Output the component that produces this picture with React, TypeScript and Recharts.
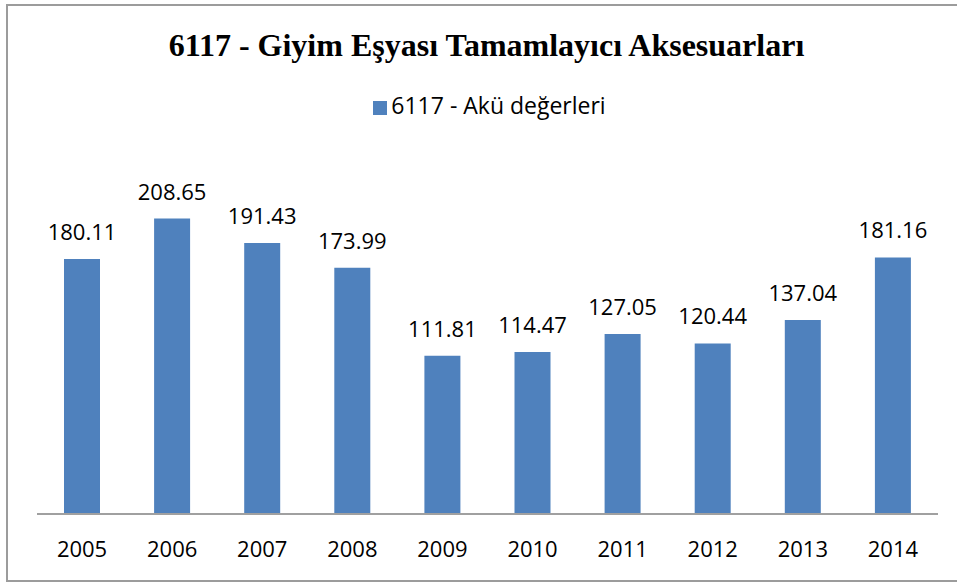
import React from 'react';
import { BarChart, Bar, XAxis, YAxis, LabelList, Legend } from 'recharts';

const years = ['2005', '2006', '2007', '2008', '2009', '2010', '2011', '2012', '2013', '2014'];
const values = [180.11, 208.65, 191.43, 173.99, 111.81, 114.47, 127.05, 120.44, 137.04, 181.16];
const seriesName = '6117 - Akü değerleri';
const title = '6117 - Giyim Eşyası Tamamlayıcı Aksesuarları';

const data = years.map((y, i) => ({ year: y, value: values[i] }));

const SANS = '"Open Sans", "Noto Sans", sans-serif';

export default function App() {
  return (
    <div style={{ position: 'absolute', left: 0, top: 0, width: 957, height: 583, background: '#fff', overflow: 'hidden' }}>
      <div
        style={{
          position: 'absolute',
          left: 6,
          top: 4,
          width: 980,
          height: 574,
          border: '2px solid #9c9c9c',
          boxSizing: 'content-box',
        }}
      />
      <div
        style={{
          position: 'absolute',
          left: 8,
          top: 26,
          width: 957,
          textAlign: 'center',
          fontFamily: '"Liberation Serif", "Times New Roman", serif',
          fontWeight: 'bold',
          fontSize: 32,
          lineHeight: '38px',
          color: '#000',
        }}
      >
        {title}
      </div>
      <BarChart
        width={957}
        height={583}
        data={data}
        margin={{ top: 160, right: 19, bottom: 39, left: 37 }}
        style={{ position: 'absolute', left: 0, top: 0 }}
      >
        <XAxis
          dataKey="year"
          axisLine={{ stroke: '#a0a0a0', strokeWidth: 2 }}
          tickLine={false}
          tickSize={0}
          tickMargin={27}
          tick={{ fontSize: 22, fill: '#000', fontFamily: SANS }}
          interval={0}
        />
        <YAxis hide domain={[0, 250]} />
        <Legend
          verticalAlign="middle"
          align="center"
          layout="horizontal"
          iconType="square"
          iconSize={14}
          wrapperStyle={{ top: 90, left: 16, width: 957, fontSize: 23, fontFamily: SANS, lineHeight: '30px' }}
          formatter={(v: string) => <span style={{ color: '#000' }}>{v}</span>}
        />
        <Bar dataKey="value" name={seriesName} fill="#4f81bd" barSize={36} isAnimationActive={false}>
          <LabelList
            dataKey="value"
            position="top"
            offset={19}
            style={{ fontSize: 22, fill: '#000', fontFamily: SANS }}
            formatter={(v: number) => v.toFixed(2)}
          />
        </Bar>
      </BarChart>
    </div>
  );
}
